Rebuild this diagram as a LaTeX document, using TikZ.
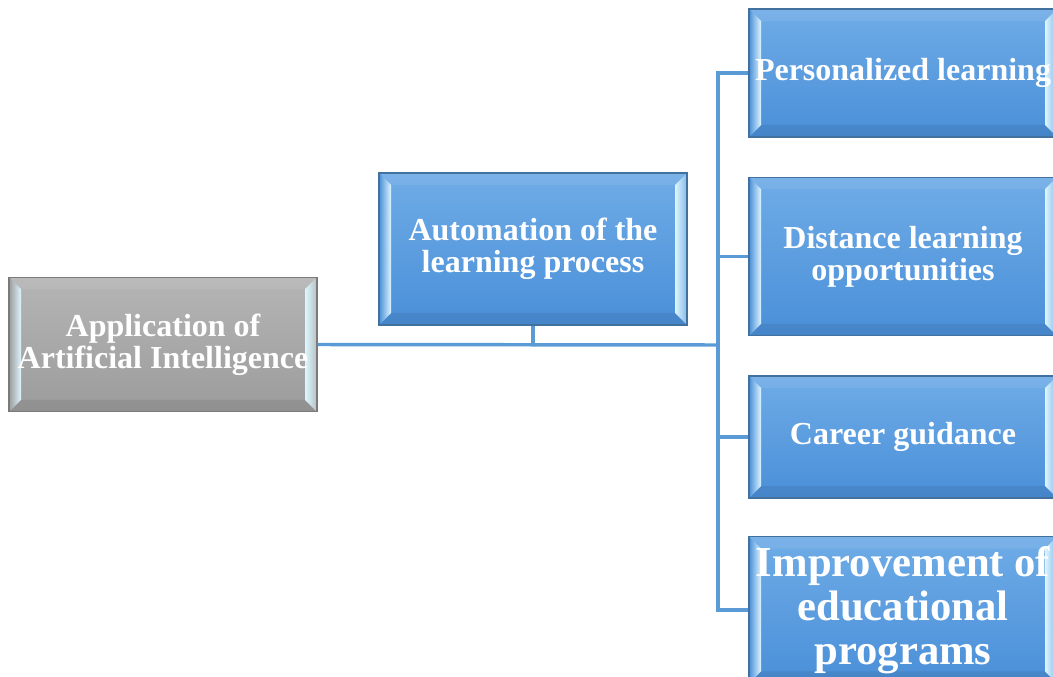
\documentclass[tikz,border=0pt]{standalone}
\usepackage{fontspec}
\setmainfont{Liberation Serif}
\usetikzlibrary{calc}
\definecolor{boxtop}{HTML}{6FACE7}
\definecolor{boxbot}{HTML}{4A8FD8}
\definecolor{boxrim}{HTML}{41719C}
\definecolor{greytop}{HTML}{B5B5B5}
\definecolor{greybot}{HTML}{9C9C9C}
\definecolor{greyrim}{HTML}{7A7A7A}
\definecolor{linkblue}{HTML}{5B9BD5}
\definecolor{bevhi}{HTML}{DDF6FF}
\tikzset{
  conn/.style={draw=linkblue,line width=2.6pt},
  bevel/.style={path picture={
    \path (path picture bounding box.north west) coordinate (p1)
          (path picture bounding box.north east) coordinate (p2)
          (path picture bounding box.south east) coordinate (p3)
          (path picture bounding box.south west) coordinate (p4);
    % top and bottom bevel
    \fill[white,opacity=.08] (p1) -- (p2) -- ([shift={(-9pt,-9pt)}]p2) -- ([shift={(9pt,-9pt)}]p1) -- cycle;
    \fill[black,opacity=.07] (p4) -- (p3) -- ([shift={(-9pt,9pt)}]p3) -- ([shift={(9pt,9pt)}]p4) -- cycle;
    % side bevels
    \shade[left color=#1,right color=bevhi] (p1) -- (p4) -- ([shift={(9pt,9pt)}]p4) -- ([shift={(9pt,-9pt)}]p1) -- cycle;
    \shade[left color=bevhi,right color=#1!60!bevhi] (p2) -- (p3) -- ([shift={(-9pt,9pt)}]p3) -- ([shift={(-9pt,-9pt)}]p2) -- cycle;
  }},
  bluebox/.style={bevel=boxbot,draw=boxrim,line width=0.8pt,top color=boxtop,bottom color=boxbot,
    minimum width=231pt,minimum height=#1,inner sep=0pt,text=white,align=center,
    font=\bfseries\fontsize{24}{24}\selectfont},
  greybox/.style={bluebox=#1,bevel=greybot,draw=greyrim,top color=greytop,bottom color=greybot},
}
\begin{document}
\begin{tikzpicture}[x=0.75pt,y=-0.75pt]
\clip (0,0) rectangle (1053,677);
\useasboundingbox (0,0) rectangle (1053,677);

\node[greybox=101pt] (ai) at (163,344.5) {Application of\\Artificial Intelligence};
\node[bluebox=114pt] (auto) at (533,249) {Automation of the\\learning process};

\node[bluebox=96pt] (pers) at (903,73) {Personalized learning};
\node[bluebox=119pt] (dist) at (903,256.5) {Distance learning\\opportunities};
\node[bluebox=91.5pt] (car) at (903,437) {Career guidance};
\node[bluebox=110pt,font=\bfseries\fontsize{32}{33}\selectfont] (impr) at (903,610) {Improvement of\\educational\\programs};

% trunk and branches
\coordinate (hub) at (718,345);
\draw[conn] (ai.east) -- (hub);
\draw[conn] (auto.south) -- (auto.south |- hub);
\draw[conn] (hub) |- (pers.west);
\draw[conn] (hub) |- (dist.west);
\draw[conn] (hub) |- (car.west);
\draw[conn] (hub) |- (impr.west);
\end{tikzpicture}
\end{document}
